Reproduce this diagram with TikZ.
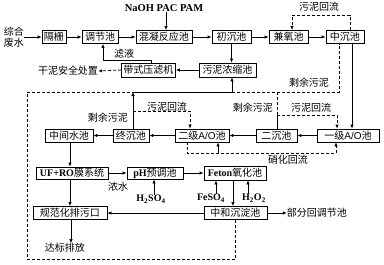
\documentclass[tikz,border=0pt]{standalone}
\usepackage{fontspec}
\setmainfont{Liberation Serif}
\newfontfamily\cjk{Noto Sans CJK SC}
\newfontfamily\lsans{Liberation Sans}
\usetikzlibrary{arrows.meta}
\begin{document}
\begin{tikzpicture}[x=1pt,y=-1pt,
  box/.style={draw,line width=0.8pt,minimum height=13pt,inner sep=0pt,font=\cjk\fontsize{10}{12}\selectfont},
  lbl/.style={inner sep=0pt,font=\cjk\fontsize{10}{12}\selectfont},
  ln/.style={line width=0.8pt},
  arr/.style={ln,-{Latex[length=4pt,width=3.5pt]}},
  dsh/.style={ln,dash pattern=on 3pt off 2pt},
  darr/.style={arr,dash pattern=on 3pt off 2pt},
]
\useasboundingbox (0,0) rectangle (384,265);
% row 1
\node[lbl,align=center,font=\cjk\fontsize{10}{11}\selectfont] (fs) at (14,37) {综合\\废水};
\node[box,minimum width=24pt] (gs) at (54,37) {隔栅};
\node[box,minimum width=36pt] (tj) at (100,37) {调节池};
\node[box,minimum width=56pt] (hn) at (164,37) {混凝反应池};
\node[box,minimum width=39pt] (cc) at (231.5,37) {初沉池};
\node[box,minimum width=39pt] (jy) at (288.5,37) {兼氧池};
\node[box,minimum width=38pt] (zcc) at (345,37) {中沉池};
\node[inner sep=0pt,font=\bfseries\fontsize{10.5}{12}\selectfont] (na) at (164,8) {NaOH PAC PAM};
\node[lbl] (hl1) at (319,7) {污泥回流};
% row 2
\node[box,minimum width=54pt,minimum height=14pt] (dsy) at (148.5,70) {带式压滤机};
\node[box,minimum width=57pt,minimum height=14pt] (wn) at (227.5,70) {污泥浓缩池};
\node[lbl] (gn) at (68,71) {干泥安全处置};
\node[lbl] (lv) at (124,54) {滤液};
\node[lbl] (sy1) at (309,83) {剩余污泥};
\node[lbl] (sy2) at (108,118) {剩余污泥};
\node[lbl] (hl2) at (167,107) {污泥回流};
\node[lbl] (sy3) at (253,108) {剩余污泥};
\node[lbl] (hl3) at (311,108) {污泥回流};
% row 3
\node[box,minimum width=48pt] (zj) at (69,135.5) {中间水池};
\node[box,minimum width=36pt] (zc) at (131,135.5) {终沉池};
\node[box,minimum width=54pt] (ej) at (202,135.5) {二级{\lsans A/O}池};
\node[box,minimum width=41pt] (ec) at (276.5,135.5) {二沉池};
\node[box,minimum width=62pt] (yj) at (348,135.5) {一级{\lsans A/O}池};
\node[lbl] (xh) at (288,160) {硝化回流};
% row 4
\node[box,minimum width=72pt,minimum height=12pt] (uf) at (72,173) {{\rmfamily\bfseries UF+RO}膜系统};
\node[box,minimum width=56pt,minimum height=12pt] (ph) at (155,173) {{\rmfamily\bfseries pH}预调池};
\node[box,minimum width=62pt,minimum height=14pt] (fe) at (235,173) {{\rmfamily\bfseries Feton}氧化池};
\node[lbl] (ns) at (118,187) {浓水};
\node[inner sep=0pt,font=\bfseries\fontsize{10}{12}\selectfont] (hs) at (151,199) {H\textsubscript{2}SO\textsubscript{4}};
\node[inner sep=0pt,font=\bfseries\fontsize{10}{12}\selectfont] (fso) at (211,198) {FeSO\textsubscript{4}};
\node[inner sep=0pt,font=\bfseries\fontsize{10}{12}\selectfont] (ho) at (254,198) {H\textsubscript{2}O\textsubscript{2}};
% row 5
\node[box,minimum width=74pt] (gf) at (70,213) {规范化排污口};
\node[box,minimum width=63pt] (zh) at (235.5,213) {中和沉淀池};
\node[lbl] (bf) at (317,213) {部分回调节池};
\node[lbl] (db) at (65,248) {达标排放};

% coordinates
\coordinate (r1a) at (350,15); \coordinate (r1b) at (292,15);
\coordinate (f1) at (151,60); \coordinate (f2) at (103,60);
\coordinate (L2) at (27,259); \coordinate (L3) at (27,92);
\coordinate (J1) at (133,92); \coordinate (J2) at (232,92);
\coordinate (J3) at (339,92); \coordinate (J4) at (277,92);
\coordinate (J5) at (277,115); \coordinate (J6) at (337,115);
\coordinate (J7) at (352,92); \coordinate (J8) at (133,111);
\coordinate (J9) at (190,111);
\coordinate (N1) at (187,153); \coordinate (N2) at (336,153); \coordinate (N3) at (218,153);
\coordinate (X) at (70,0); \coordinate (P) at (154,0); \coordinate (Q1) at (216,0);
\coordinate (Q2) at (248,0); \coordinate (Q3) at (233,0); \coordinate (Y) at (71,0);
\coordinate (H) at (166,0);

% row 1 connectors
\draw[arr] (fs.east) -- (gs.west);
\draw[arr] (gs.east) -- (tj.west);
\draw[arr] (tj.east) -- (hn.west);
\draw[arr] (hn.east) -- (cc.west);
\draw[arr] (cc.east) -- (jy.west);
\draw[arr] (jy.east) -- (zcc.west);
\draw[arr] (H |- na.south) -- (H |- hn.north);
\draw[darr] (r1a |- zcc.north) -- (r1a) -- (r1b) -- (r1b |- jy.north);
% row 2
\draw[arr] (f1 |- dsy.north) -- (f1) -- (f2) -- (f2 |- tj.south);
\draw[darr] (dsy.west) -- (gn.east);
\draw[arr] (wn.west) -- (dsy.east);
\draw[arr] (cc.south) -- (cc.south |- wn.north);
% sludge collection
\draw[dsh] (zh.south) -- (zh.south |- L2) -- (L2) -- (L3) -- (J1);
\draw[arr] (J1 |- zc.north) -- (J1);
\draw[ln] (J1) -- (J2);
\draw[arr] (J2) -- (J2 |- wn.south);
\draw[dsh] (J2) -- (J3) -- (J3 |- zcc.south);
\draw[ln] (J5 |- ec.north) -- (J5);
\draw[dsh] (J5) -- (J4);
\draw[darr] (J5) -- (J6) -- (J6 |- yj.north);
\draw[arr] (J7 |- zcc.south) -- (J7 |- yj.north);
\draw[darr] (J8) -- (J9) -- (J9 |- ej.north);
% row 3
\draw[arr] (yj.west) -- (ec.east);
\draw[arr] (ec.west) -- (ej.east);
\draw[arr] (ej.west) -- (zc.east);
\draw[arr] (zc.west) -- (zj.east);
\draw[darr] (N1 |- ej.south) -- (N1) -- (N2) -- (N2 |- yj.south);
\draw[arr] (N3) -- (N3 |- ej.south);
% row 4
\draw[arr] (X |- zj.south) -- (X |- uf.north);
\draw[arr] (uf.east) -- (ph.west);
\draw[arr] (ph.east) -- (fe.west);
\draw[arr] (P |- hs.north) -- (P |- ph.south);
\draw[arr] (Q1 |- fso.north) -- (Q1 |- fe.south);
\draw[arr] (Q2 |- ho.north) -- (Q2 |- fe.south);
\draw[arr] (Q3 |- fe.south) -- (Q3 |- zh.north);
% row 5
\draw[arr] (zh.east) -- (bf.west);
\draw[arr] (zh.west) -- (gf.east);
\draw[arr] (X |- uf.south) -- (X |- gf.north);
\draw[arr] (Y |- gf.south) -- (Y |- db.north);
\end{tikzpicture}
\end{document}
